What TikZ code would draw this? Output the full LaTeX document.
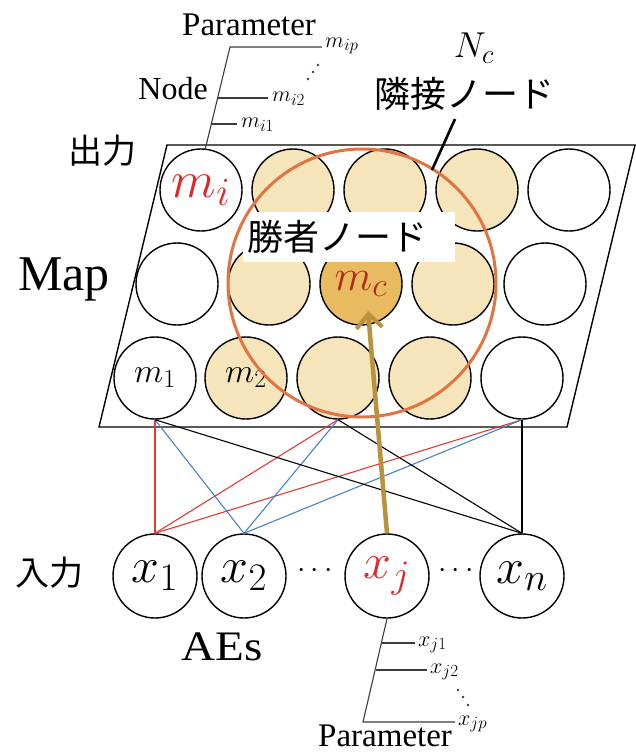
\RequirePackage{fix-cm}
\documentclass[tikz,border=0pt]{standalone}
\usepackage{fontspec}
\setmainfont{Liberation Serif}
\newfontfamily\jp{Noto Sans CJK JP}
\usetikzlibrary{arrows.meta}
\definecolor{tanL}{RGB}{246,228,186}
\definecolor{tanD}{RGB}{233,187,96}
\definecolor{orC}{RGB}{226,116,66}
\definecolor{redT}{RGB}{224,40,40}
\definecolor{redD}{RGB}{180,40,30}
\definecolor{lnRed}{RGB}{222,60,50}
\definecolor{lnBlue}{RGB}{70,130,200}
\definecolor{gold}{RGB}{184,146,60}
\definecolor{treeC}{RGB}{60,60,60}
\DeclareMathSizes{52}{52}{40}{30}
\DeclareMathSizes{50}{50}{39}{30}
\DeclareMathSizes{44}{44}{34}{26}
\DeclareMathSizes{34}{34}{26}{20}
\DeclareMathSizes{36}{36}{27}{20}
\DeclareMathSizes{22}{22}{17}{13}
\newcommand{\fs}[1]{\fontsize{#1}{#1}\selectfont}
\begin{document}
\begin{tikzpicture}[x=1pt,y=-1pt,
  mapnode/.style={circle, draw, line width=1.4pt, minimum size=82pt, inner sep=0pt},
  nbnode/.style={mapnode, fill=tanL},
  winnode/.style={mapnode, fill=tanD},
  innode/.style={circle, draw, line width=1.4pt, minimum size=84pt, inner sep=0pt},
  jplabel/.style={font=\jp\fs{34}, inner sep=0pt},
  serlabel/.style={inner sep=0pt},
  tree/.style={treeC, line width=1.1pt},
  conn/.style={line width=1.1pt},
  dotmark/.style={circle, fill=treeC, inner sep=0pt, minimum size=2.6pt}
]
\useasboundingbox (0,0) rectangle (636,753);

% map frame
\draw[line width=1.4pt] (167,145) -- (635,145) -- (567,427) -- (99,427) -- cycle;

% row 1
\node[mapnode] (a1) at (201,190) {\fs{52}$\color{redT}m_i$};
\node[nbnode]  (a2) at (293,190) {};
\node[nbnode]  (a3) at (385,190) {};
\node[nbnode]  (a4) at (477,190) {};
\node[mapnode] (a5) at (569,190) {};
% row 2
\node[mapnode] (b1) at (177,284) {};
\node[nbnode]  (b2) at (269,284) {};
\node[winnode] (b3) at (361,284) {\fs{44}$\color{redD}m_c$};
\node[nbnode]  (b4) at (453,284) {};
\node[mapnode] (b5) at (545,284) {};
% row 3
\node[mapnode] (c1) at (155,378) {\fs{34}$m_1$};
\node[nbnode]  (c2) at (246,378) {\fs{34}$m_2$};
\node[nbnode]  (c3) at (338,378) {};
\node[nbnode]  (c4) at (430,378) {};
\node[mapnode] (c5) at (522,378) {};

% winner label box
\node[fill=white, anchor=north west, text width=204pt, inner xsep=4pt, inner ysep=0pt,
      minimum height=50pt, align=left, font=\jp\fs{36}] (win) at (243,212) {勝者ノード};

% neighbourhood circle
\draw[orC, line width=3pt] (362,283) circle[radius=134pt];

% input nodes
\node[innode] (x1) at (155,576) {\fs{50}$x_1$};
\node[innode] (x2) at (244,576) {\fs{50}$x_2$};
\node[innode] (xj) at (387,576) {\fs{50}$\color{redT}x_j$};
\node[innode] (xn) at (522,576) {\fs{50}$x_n$};
\node[serlabel] (d1) at (315,571) {\fs{30}$\cdots$};
\node[serlabel] (d2) at (456,571) {\fs{30}$\cdots$};

% connections
\draw[conn, lnRed] (c1.south) -- (x1.north);
\draw[conn, lnRed] (c3.south) -- (x1.north);
\draw[conn, lnRed] (c5.south) -- (x1.north);
\draw[conn, lnBlue] (c1.south) -- (x2.north);
\draw[conn, lnBlue] (c3.south) -- (x2.north);
\draw[conn, lnBlue] (c5.south) -- (x2.north);
\draw[conn, black] (c1.south) -- (xn.north);
\draw[conn, black] (c3.south) -- (xn.north);
\draw[conn, black] (c5.south) -- (xn.north);

% winner arrow
\coordinate (tip) at (368,311);
\draw[gold, line width=4.5pt, -{Straight Barb[length=14pt,width=26pt,line width=4pt]}] (xj.north) -- (tip);

% labels
\node[jplabel] (out) at (102,151) {出力};
\node[jplabel] (inp) at (50,573) {入力};
\node[serlabel, anchor=base, font=\fs{50}] (map) at (64,290) {Map};
\node[serlabel, anchor=base, font=\fs{42}] (aes) at (222,660) {\scalebox{1.12}[1]{AEs}};
\node[serlabel] (nc) at (474,48) {\fs{36}$N_c$};
\node[jplabel, font=\jp\fs{36}] (nbl) at (464,94) {隣接ノード};
\coordinate (nbA) at (455,119);
\coordinate (nbB) at (432,170);
\draw[line width=2.6pt] (nbA) -- (nbB);

% parameter tree (top)
\node[serlabel, anchor=base west, font=\fs{33}] (ptop) at (182,35) {Parameter};
\node[serlabel, anchor=base east, font=\fs{32}] (node) at (208,99) {Node};
\coordinate (tA) at (230,47);
\coordinate (tB) at (205,150);
\coordinate (tC) at (322,47);
\coordinate (t2a) at (217.5,98);
\coordinate (t2b) at (268,98);
\coordinate (t1a) at (211,124);
\coordinate (t1b) at (237,124);
\draw[tree] (tB) -- (tA) -- (tC);
\draw[tree] (t2a) -- (t2b);
\draw[tree] (t1a) -- (t1b);
\node[serlabel, anchor=west] (mip) at (325,46) {\fs{22}$m_{ip}$};
\node[serlabel, anchor=west] (mi2) at (272,99) {\fs{22}$m_{i2}$};
\node[serlabel, anchor=west] (mi1) at (241,125) {\fs{22}$m_{i1}$};
\node[dotmark] (td1) at (308,79) {};
\node[dotmark] (td2) at (313,72) {};
\node[dotmark] (td3) at (318,65) {};

% parameter tree (bottom)
\coordinate (bA) at (363,722);
\coordinate (bC) at (455,722);
\coordinate (b1a) at (382,643);
\coordinate (b1b) at (415,643);
\coordinate (b2a) at (376,670);
\coordinate (b2b) at (427,670);
\draw[tree] (xj.south) -- (bA) -- (bC);
\draw[tree] (b1a) -- (b1b);
\draw[tree] (b2a) -- (b2b);
\node[serlabel, anchor=west] (xj1) at (418,645) {\fs{22}$x_{j1}$};
\node[serlabel, anchor=west] (xj2) at (430,672) {\fs{22}$x_{j2}$};
\node[serlabel, anchor=west] (xjp) at (458,724) {\fs{22}$x_{jp}$};
\node[dotmark] (bd1) at (458,690) {};
\node[dotmark] (bd2) at (463,697) {};
\node[dotmark] (bd3) at (468,705) {};
\node[serlabel, anchor=base west, font=\fs{33}] (pbot) at (318,746) {Parameter};
\end{tikzpicture}
\end{document}
